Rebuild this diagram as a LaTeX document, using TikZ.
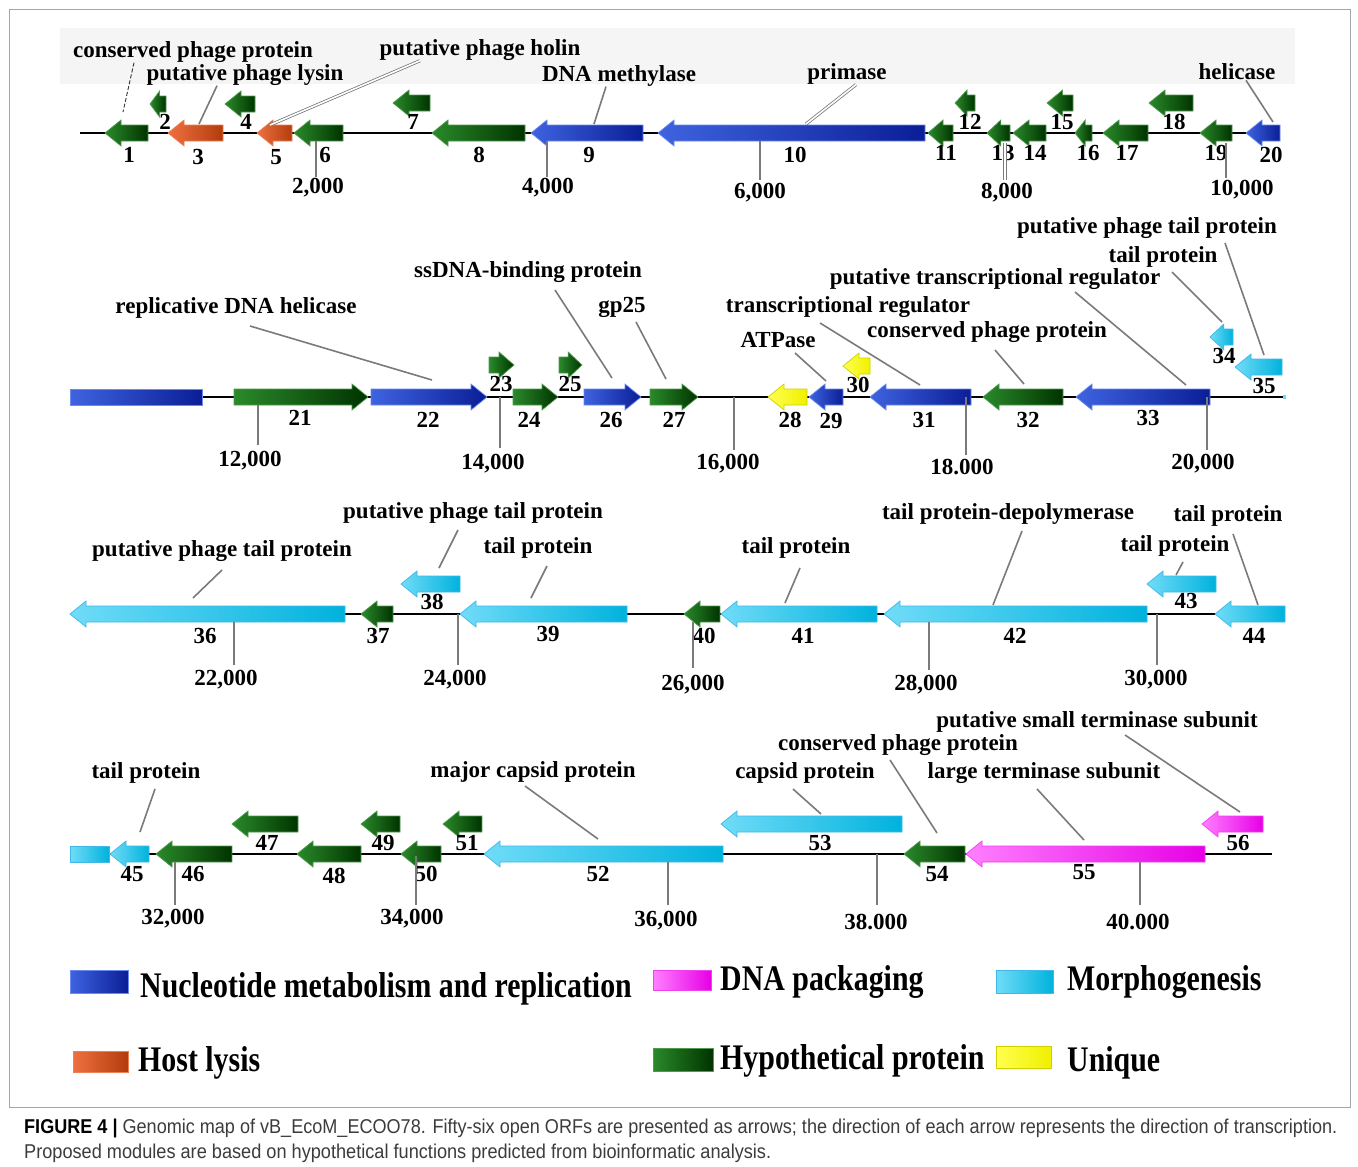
\documentclass[tikz,border=0pt]{standalone}
\usepackage{fontspec}
\setmainfont{Liberation Serif}
\newfontfamily\capsans{Liberation Sans}
\definecolor{gL}{HTML}{2A8A2A}\definecolor{gD}{HTML}{003300}\definecolor{gB}{HTML}{4F9A4F}
\definecolor{bL}{HTML}{3F63E0}\definecolor{bD}{HTML}{0A1E96}\definecolor{bB}{HTML}{6A8AF0}
\definecolor{cL}{HTML}{70DCF8}\definecolor{cD}{HTML}{00B2DD}\definecolor{cB}{HTML}{40B8E8}
\definecolor{mL}{HTML}{FF80FF}\definecolor{mD}{HTML}{E600E6}\definecolor{mB}{HTML}{F040F0}
\definecolor{oL}{HTML}{EE7040}\definecolor{oD}{HTML}{B33C0D}\definecolor{oB}{HTML}{F08050}
\definecolor{yL}{HTML}{FFFF50}\definecolor{yD}{HTML}{F0F000}\definecolor{yB}{HTML}{D0D000}
\definecolor{lineg}{HTML}{7A7A7A}
\definecolor{capg}{HTML}{3C3C3C}
\tikzset{
  hyp/.style={left color=gL,right color=gD,draw=gB,line width=0.7},
  nuc/.style={left color=bL,right color=bD,draw=bB,line width=0.7},
  morph/.style={left color=cL,right color=cD,draw=cB,line width=0.7},
  pack/.style={left color=mL,right color=mD,draw=mB,line width=0.7},
  lysis/.style={left color=oL,right color=oD,draw=oB,line width=0.7},
  uniq/.style={left color=yL,right color=yD,draw=yB,line width=0.7},
  lbl/.style={font=\bfseries\fontsize{23}{24}\selectfont,inner sep=0pt},
  num/.style={font=\bfseries\fontsize{23}{24}\selectfont,inner sep=0pt},
  callout/.style={draw=lineg,line width=1.6},
  dblline/.style={draw=lineg,double=white,double distance=1.6,line width=0.8},
  thinline/.style={draw=black!80,line width=0.9,dash pattern=on 4pt off 2pt},
  tickln/.style={draw=lineg,line width=1.6},
  backbone/.style={draw=black,line width=2},
  legtext/.style={font=\bfseries\fontsize{36}{38}\selectfont,inner sep=0pt,anchor=base west},
}
\newcommand\orfL[5]{%
  \pgfmathsetmacro\hl{min(16,0.6*(#3-#2))}%
  \path[#5] (#2,#4) -- (#2+\hl,#4-13) -- (#2+\hl,#4-8) -- (#3,#4-8) -- (#3,#4+8)
    -- (#2+\hl,#4+8) -- (#2+\hl,#4+13) -- cycle;
  \coordinate (#1) at ({(#2+#3)/2},#4);}
\newcommand\orfR[5]{%
  \pgfmathsetmacro\hl{min(16,0.6*(#3-#2))}%
  \path[#5] (#3,#4) -- (#3-\hl,#4-13) -- (#3-\hl,#4-8) -- (#2,#4-8) -- (#2,#4+8)
    -- (#3-\hl,#4+8) -- (#3-\hl,#4+13) -- cycle;
  \coordinate (#1) at ({(#2+#3)/2},#4);}
\newcommand\ticklab[6]{% name, x, y1, y2, label x, label y
  \draw[tickln] (#2,#3) -- (#2,#4);
  \node[num] (#1) at (#5,#6) {\ticktext};}
\begin{document}
\begin{tikzpicture}[x=1pt,y=-1pt]
\useasboundingbox (0,0) rectangle (1358,1167);
\fill[white] (0,0) rectangle (1358,1167);
\draw[gray!70,line width=1] (9,9) rectangle (1350,1107);
\fill[black!4] (60,28) rectangle (1295,84);

% ---------------- Row 1 ----------------
\draw[backbone] (80,133) -- (1280,133);
\orfL{g1}{105}{148}{133}{hyp}
\orfL{g2}{150}{166}{104}{hyp}
\orfL{g3}{168}{223}{133}{lysis}
\orfL{g4}{225}{255}{104}{hyp}
\orfL{g5}{257}{292}{133}{lysis}
\orfL{g6}{294}{343}{133}{hyp}
\orfL{g7}{393}{430}{103}{hyp}
\orfL{g8}{432}{525}{133}{hyp}
\orfL{g9}{531}{643}{133}{nuc}
\orfL{g10}{658}{925}{133}{nuc}
\orfL{g11}{928}{953}{133}{hyp}
\orfL{g12}{955}{975}{103}{hyp}
\orfL{g13}{987}{1010}{133}{hyp}
\orfL{g14}{1013}{1046}{133}{hyp}
\orfL{g15}{1047}{1073}{103}{hyp}
\orfL{g16}{1075}{1092}{133}{hyp}
\orfL{g17}{1103}{1148}{133}{hyp}
\orfL{g18}{1149}{1193}{103}{hyp}
\orfL{g19}{1200}{1232}{133}{hyp}
\orfL{g20}{1246}{1280}{133}{nuc}
\node[num] (n1) at (129,155) {1};
\node[num] (n2) at (165,122) {2};
\node[num] (n3) at (198,157) {3};
\node[num] (n4) at (246,122) {4};
\node[num] (n5) at (276,157) {5};
\node[num] (n6) at (325,155) {6};
\node[num] (n7) at (413,122) {7};
\node[num] (n8) at (479,155) {8};
\node[num] (n9) at (589,155) {9};
\node[num] (n10) at (795,155) {10};
\node[num] (n11) at (946,153) {11};
\node[num] (n12) at (970,122) {12};
\node[num] (n13) at (1003,153) {13};
\node[num] (n14) at (1035,153) {14};
\node[num] (n15) at (1062,122) {15};
\node[num] (n16) at (1088,153) {16};
\node[num] (n17) at (1127,153) {17};
\node[num] (n18) at (1174,122) {18};
\node[num] (n19) at (1216,153) {19};
\node[num] (n20) at (1271,155) {20};
\def\ticktext{2,000}\ticklab{k2}{316}{141}{177}{318}{188}
\def\ticktext{4,000}\ticklab{k4}{547}{141}{177}{548}{188}
\def\ticktext{6,000}\ticklab{k6}{760}{141}{180}{760}{193}
\draw[dblline] (1005,143) -- (1005,180);
\node[num] (k8) at (1007,193) {8,000};
\def\ticktext{10,000}\ticklab{k10}{1226}{143}{178}{1242}{190}
\node[lbl] (a1) at (193,52) {conserved phage protein};
\node[lbl] (a3) at (245,75) {putative phage lysin};
\node[lbl] (a5) at (480,50) {putative phage holin};
\node[lbl] (a9) at (619,76) {DNA methylase};
\node[lbl] (a10) at (847,74) {primase};
\node[lbl] (a20) at (1237,72) {helicase};
\coordinate (e1) at (123,112);
\coordinate (e3) at (199,124);
\coordinate (e5) at (270,125);
\coordinate (e9) at (594,124);
\coordinate (e10) at (806,124);
\coordinate (e20) at (1273,122);
\draw[thinline] (a1.south -| 134,0) -- (e1);
\draw[callout] (a3.south -| 217,0) -- (e3);
\draw[dblline] (a5.south -| 420,0) -- (e5);
\draw[callout] (a9.south -| 606,0) -- (e9);
\draw[dblline] (a10.south -| 856,0) -- (e10);
\draw[callout] (a20.south -| 1246,0) -- (e20);

% ---------------- Row 2 ----------------
\draw[backbone] (70,397) -- (1285,397);
\path[nuc] (70,389) rectangle (202,405);
\orfR{g21}{234}{368}{397}{hyp}
\orfR{g22}{371}{487}{397}{nuc}
\orfR{g23}{489}{514}{365}{hyp}
\orfR{g24}{513}{558}{397}{hyp}
\orfR{g25}{559}{582}{365}{hyp}
\orfR{g26}{584}{641}{397}{nuc}
\orfR{g27}{650}{698}{397}{hyp}
\orfL{g28}{768}{807}{397}{uniq}
\orfL{g29}{809}{843}{397}{nuc}
\orfL{g30}{843}{870}{366}{uniq}
\orfL{g31}{870}{971}{397}{nuc}
\orfL{g32}{983}{1063}{397}{hyp}
\orfL{g33}{1076}{1210}{397}{nuc}
\orfL{g34}{1210}{1233}{337}{morph}
\orfL{g35}{1235}{1282}{367}{morph}
\fill[cL] (1283,395) rectangle (1286,399);
\node[num] (n21) at (300,418) {21};
\node[num] (n22) at (428,420) {22};
\node[num] (n23) at (501,384) {23};
\node[num] (n24) at (529,420) {24};
\node[num] (n25) at (570,384) {25};
\node[num] (n26) at (611,420) {26};
\node[num] (n27) at (674,420) {27};
\node[num] (n28) at (790,420) {28};
\node[num] (n29) at (831,421) {29};
\node[num] (n30) at (858,385) {30};
\node[num] (n31) at (924,420) {31};
\node[num] (n32) at (1028,420) {32};
\node[num] (n33) at (1148,418) {33};
\node[num] (n34) at (1224,356) {34};
\node[num] (n35) at (1264,386) {35};
\def\ticktext{12,000}\ticklab{k12}{258}{405}{445}{250}{461}
\def\ticktext{14,000}\ticklab{k14}{500}{397}{448}{493}{464}
\def\ticktext{16,000}\ticklab{k16}{734}{397}{450}{728}{464}
\def\ticktext{18.000}\ticklab{k18}{966}{397}{455}{962}{467}
\def\ticktext{20,000}\ticklab{k20}{1207}{397}{450}{1203}{464}
\node[lbl] (a22) at (236,308) {replicative DNA helicase};
\node[lbl] (a26) at (528,272) {ssDNA-binding protein};
\node[lbl] (a27) at (622,307) {gp25};
\node[lbl] (a29) at (778,340) {ATPase};
\node[lbl] (a31) at (848,307) {transcriptional regulator};
\node[lbl] (a32) at (987,332) {conserved phage protein};
\node[lbl] (a33) at (995,279) {putative transcriptional regulator};
\node[lbl] (a34) at (1163,257) {tail protein};
\node[lbl] (a35) at (1147,228) {putative phage tail protein};
\coordinate (e22) at (432,380);
\coordinate (e26) at (612,378);
\coordinate (e27) at (666,379);
\coordinate (e29) at (826,381);
\coordinate (e31) at (920,385);
\coordinate (e32) at (1024,384);
\coordinate (e33) at (1186,385);
\coordinate (e34) at (1222,322);
\coordinate (e35) at (1264,355);
\draw[callout] (250,326) -- (e22);
\draw[callout] (555,290) -- (e26);
\draw[callout] (636,322) -- (e27);
\draw[callout] (795,353) -- (e29);
\draw[callout] (820,323) -- (e31);
\draw[callout] (995,350) -- (e32);
\draw[callout] (1075,292) -- (e33);
\draw[callout] (1172,272) -- (e34);
\draw[callout] (1225,243) -- (e35);

% ---------------- Row 3 ----------------
\draw[backbone] (345,614) -- (1285,614);
\orfL{g36}{70}{345}{614}{morph}
\orfL{g37}{361}{393}{614}{hyp}
\orfL{g38}{401}{460}{584}{morph}
\orfL{g39}{460}{627}{614}{morph}
\orfL{g40}{684}{720}{614}{hyp}
\orfL{g41}{721}{877}{614}{morph}
\orfL{g42}{884}{1147}{614}{morph}
\orfL{g43}{1147}{1216}{584}{morph}
\orfL{g44}{1215}{1285}{614}{morph}
\node[num] (n36) at (205,636) {36};
\node[num] (n37) at (378,636) {37};
\node[num] (n38) at (432,602) {38};
\node[num] (n39) at (548,634) {39};
\node[num] (n40) at (704,636) {40};
\node[num] (n41) at (803,636) {41};
\node[num] (n42) at (1015,636) {42};
\node[num] (n43) at (1186,601) {43};
\node[num] (n44) at (1254,636) {44};
\def\ticktext{22,000}\ticklab{k22}{234}{622}{665}{226}{680}
\def\ticktext{24,000}\ticklab{k24}{458}{614}{665}{455}{680}
\def\ticktext{26,000}\ticklab{k26}{693}{622}{668}{693}{685}
\def\ticktext{28,000}\ticklab{k28}{929}{622}{670}{926}{685}
\def\ticktext{30,000}\ticklab{k30}{1157}{614}{665}{1156}{680}
\node[lbl] (a36) at (222,551) {putative phage tail protein};
\node[lbl] (a38) at (473,513) {putative phage tail protein};
\node[lbl] (a39) at (538,548) {tail protein};
\node[lbl] (a41) at (796,548) {tail protein};
\node[lbl] (a42) at (1008,514) {tail protein-depolymerase};
\node[lbl] (a44) at (1228,516) {tail protein};
\node[lbl] (a43) at (1175,546) {tail protein};
\coordinate (e36) at (193,598);
\coordinate (e38) at (439,568);
\coordinate (e39) at (531,598);
\coordinate (e41) at (785,603);
\coordinate (e42) at (993,605);
\coordinate (e44) at (1258,605);
\coordinate (e43) at (1176,575);
\draw[callout] (222,570) -- (e36);
\draw[callout] (458,530) -- (e38);
\draw[callout] (547,566) -- (e39);
\draw[callout] (800,568) -- (e41);
\draw[callout] (1022,531) -- (e42);
\draw[callout] (1233,534) -- (e44);
\draw[callout] (1183,562) -- (e43);

% ---------------- Row 4 ----------------
\draw[backbone] (70,854) -- (1272,854);
\path[morph] (70,846) rectangle (109,862);
\orfL{g45}{110}{149}{854}{morph}
\orfL{g46}{156}{232}{854}{hyp}
\orfL{g47}{232}{298}{824}{hyp}
\orfL{g48}{297}{361}{854}{hyp}
\orfL{g49}{361}{400}{824}{hyp}
\orfL{g50}{401}{441}{854}{hyp}
\orfL{g51}{443}{482}{824}{hyp}
\orfL{g52}{484}{723}{854}{morph}
\orfL{g53}{721}{902}{824}{morph}
\orfL{g54}{904}{965}{854}{hyp}
\orfL{g55}{966}{1205}{854}{pack}
\orfL{g56}{1202}{1263}{824}{pack}
\node[num] (n45) at (132,874) {45};
\node[num] (n46) at (193,874) {46};
\node[num] (n47) at (267,843) {47};
\node[num] (n48) at (334,876) {48};
\node[num] (n49) at (383,843) {49};
\node[num] (n50) at (426,874) {50};
\node[num] (n51) at (467,843) {51};
\node[num] (n52) at (598,874) {52};
\node[num] (n53) at (820,843) {53};
\node[num] (n54) at (937,874) {54};
\node[num] (n55) at (1084,872) {55};
\node[num] (n56) at (1238,843) {56};
\def\ticktext{32,000}\ticklab{k32}{175}{862}{905}{173}{919}
\def\ticktext{34,000}\ticklab{k34}{416}{856}{905}{412}{919}
\def\ticktext{36,000}\ticklab{k36}{668}{862}{905}{666}{921}
\def\ticktext{38.000}\ticklab{k38}{877}{854}{905}{876}{922}
\def\ticktext{40.000}\ticklab{k40}{1140}{862}{905}{1138}{922}
\node[lbl] (a45) at (146,773) {tail protein};
\node[lbl] (a52) at (533,772) {major capsid protein};
\node[lbl] (a53) at (805,773) {capsid protein};
\node[lbl] (a54) at (898,745) {conserved phage protein};
\node[lbl] (a55) at (1044,773) {large terminase subunit};
\node[lbl] (a56) at (1097,722) {putative small terminase subunit};
\coordinate (e45) at (140,832);
\coordinate (e52) at (598,839);
\coordinate (e53) at (821,814);
\coordinate (e54) at (937,833);
\coordinate (e55) at (1084,840);
\coordinate (e56) at (1240,812);
\draw[callout] (155,789) -- (e45);
\draw[callout] (525,786) -- (e52);
\draw[callout] (793,789) -- (e53);
\draw[callout] (890,760) -- (e54);
\draw[callout] (1037,789) -- (e55);
\draw[callout] (1125,735) -- (e56);

% ---------------- Legend ----------------
\path[nuc] (70,970) rectangle (128,993);
\node[legtext] (t1) at (140,997) {\scalebox{0.83}[1]{Nucleotide metabolism and replication}};
\path[pack] (653,970) rectangle (711,990);
\node[legtext] (t2) at (720,990) {\scalebox{0.83}[1]{DNA packaging}};
\path[morph] (996,970) rectangle (1053,993);
\node[legtext] (t3) at (1067,990) {\scalebox{0.83}[1]{Morphogenesis}};
\path[lysis] (73,1051) rectangle (128,1072);
\node[legtext] (t4) at (138,1071) {\scalebox{0.83}[1]{Host lysis}};
\path[hyp] (653,1048) rectangle (713,1071);
\node[legtext] (t5) at (720,1069) {\scalebox{0.83}[1]{Hypothetical protein}};
\path[uniq] (996,1046) rectangle (1051,1068);
\node[legtext] (t6) at (1067,1071) {\scalebox{0.83}[1]{Unique}};

% ---------------- Caption ----------------
\node[anchor=base west,inner sep=0pt] (cap1) at (24,1133)
  {\resizebox{1313pt}{\height}{\capsans\fontsize{20}{22}\selectfont\textbf{FIGURE 4 |} \textcolor{capg}{Genomic map of vB\_EcoM\_ECOO78. Fifty-six open ORFs are presented as arrows; the direction of each arrow represents the direction of transcription.}}};
\node[anchor=base west,inner sep=0pt] (cap2) at (24,1158)
  {\resizebox{747pt}{\height}{\capsans\fontsize{20}{22}\selectfont\textcolor{capg}{Proposed modules are based on hypothetical functions predicted from bioinformatic analysis.}}};
\end{tikzpicture}
\end{document}
